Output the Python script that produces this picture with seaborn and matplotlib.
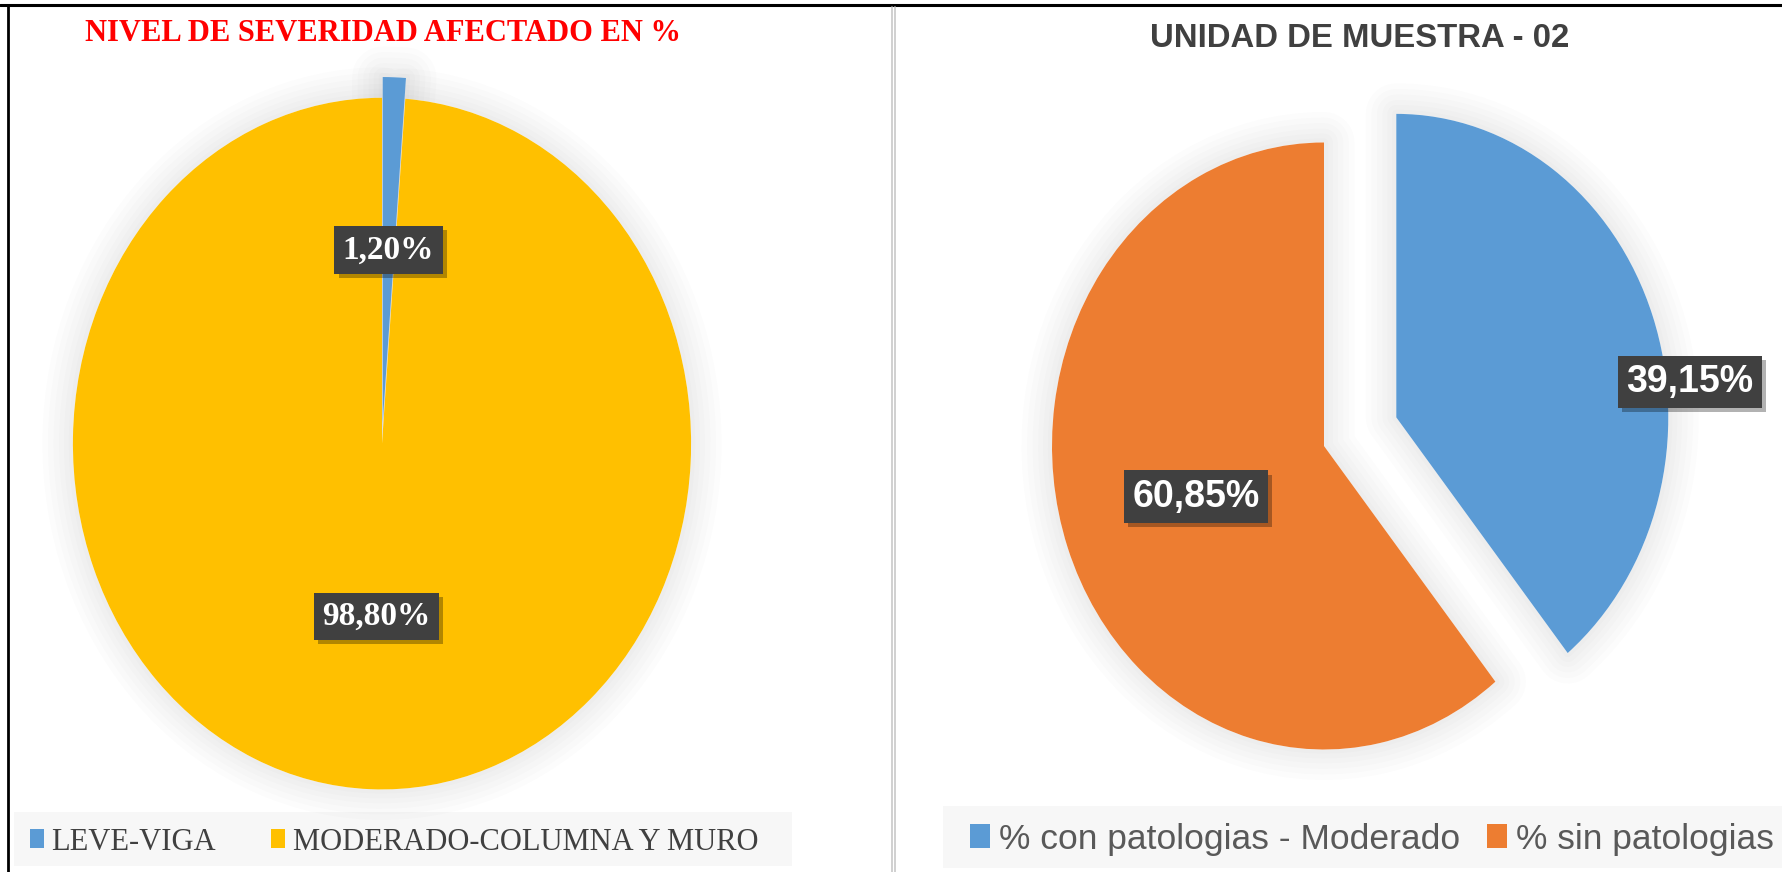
import numpy as np
import seaborn as sns
import matplotlib.pyplot as plt
import matplotlib.patheffects as pe
from matplotlib.patches import Wedge, Patch, Rectangle
from matplotlib.lines import Line2D

# left chart: severity level
sev_labels = ["LEVE-VIGA", "MODERADO-COLUMNA Y MURO"]
sev_values = [1.20, 98.80]
sev_colors = ["#5B9BD5", "#FFC000"]

# right chart: sample unit 02
unit_labels = ["% con patologias - Moderado", "% sin patologias"]
unit_values = [39.15, 60.85]
unit_colors = ["#5B9BD5", "#ED7D31"]

sns.set_theme(style="white")
plt.rcParams["font.family"] = ["Liberation Sans", "DejaVu Sans"]

W, H = 1782, 872
fig = plt.figure(figsize=(W / 100, H / 100), dpi=100)
fig.patch.set_facecolor("white")


def fmt_pct(p):
    return f"{p:.2f}%".replace(".", ",")


def add_halo(ax, wedges):
    # soft grey glow like the Excel shadow
    strokes = [pe.Stroke(linewidth=lw, foreground="black", alpha=0.012, joinstyle="round")
               for lw in (44, 36, 28, 20, 13, 6)]
    for w in wedges:
        s = Wedge(w.center, w.r, w.theta1, w.theta2, facecolor="white",
                  edgecolor="none", zorder=0, clip_on=False)
        s.set_path_effects(strokes + [pe.Normal()])
        ax.add_patch(s)


def box_label(t, size, family, pad):
    t.set_color("white")
    t.set_fontsize(size)
    t.set_fontweight("bold")
    t.set_family(family)
    t.set_bbox(dict(boxstyle=f"square,pad={pad}", facecolor="#404040", edgecolor="none"))
    t.get_bbox_patch().set_path_effects(
        [pe.SimplePatchShadow(offset=(3, -3), shadow_rgbFace="black", alpha=0.3), pe.Normal()])
    t.set_zorder(5)


# ---- left pie ----
ax1 = fig.add_axes([42 / W, 13.4 / H, 680 / W, 830 / H])
w1, _, at1 = ax1.pie(sev_values, colors=sev_colors, explode=[0.06, 0], startangle=90,
                     counterclock=False, autopct=fmt_pct, pctdistance=0.5,
                     wedgeprops=dict(linewidth=0))
ax1.set_aspect("auto")
ax1.set_xlim(-1.1, 1.1)
ax1.set_ylim(-1.2, 1.2)
ax1.axis("off")
add_halo(ax1, w1)
for t in at1:
    box_label(t, 24, ["Liberation Serif", "DejaVu Serif"], 0.25)

# ---- right pie ----
ax2 = fig.add_axes([1011.2 / W, 61.8 / H, 693.6 / W, 743.6 / H])
w2, _, at2 = ax2.pie(unit_values, colors=unit_colors, explode=[0.282, 0], startangle=90,
                     counterclock=False, autopct=fmt_pct, pctdistance=0.5,
                     wedgeprops=dict(linewidth=0))
ax2.set_aspect("auto")
ax2.set_xlim(-1.15, 1.4)
ax2.set_ylim(-1.2, 1.25)
ax2.axis("off")
add_halo(ax2, w2)
for t in at2:
    box_label(t, 27, ["Liberation Sans", "DejaVu Sans"], 0.22)
# Excel "best fit" puts the blue label on the rim
at2[0].set_position((1.346, 0.211))

# ---- titles ----
fig.text(383 / W, 1 - 41 / H, "NIVEL DE SEVERIDAD AFECTADO EN %", ha="center", va="baseline",
         color="#FF0000", fontsize=22, fontweight="bold",
         family=["Liberation Serif", "DejaVu Serif"])
fig.text(1360 / W, 1 - 47 / H, "UNIDAD DE MUESTRA - 02", ha="center", va="baseline",
         color="#404040", fontsize=23.7, fontweight="bold")

# ---- legends ----
fig.add_artist(Rectangle((14 / W, 1 - 866 / H), 778 / W, 54 / H, transform=fig.transFigure,
                         facecolor="#F7F7F7", edgecolor="none", zorder=0))
fig.add_artist(Rectangle((943 / W, 1 - 868 / H), 839 / W, 62 / H, transform=fig.transFigure,
                         facecolor="#F7F7F7", edgecolor="none", zorder=0))

h1 = [Patch(facecolor=c, edgecolor="none") for c in sev_colors]
fig.legend(h1, sev_labels, loc="center left", bbox_to_anchor=(2 / W, 1 - 842 / H), ncol=2,
           frameon=False, handlelength=0.47, handleheight=0.6,
           handletextpad=0.25, columnspacing=1.78, borderpad=0.4,
           labelcolor="#404040", prop=dict(family=["Liberation Serif", "DejaVu Serif"], size=22))

h2 = [Patch(facecolor=c, edgecolor="none") for c in unit_colors]
fig.legend(h2, unit_labels, loc="center left", bbox_to_anchor=(938 / W, 1 - 839 / H), ncol=2,
           frameon=False, handlelength=0.57, handleheight=0.69,
           handletextpad=0.26, columnspacing=0.75, borderpad=0.4,
           labelcolor="#595959", prop=dict(family=["Liberation Sans", "DejaVu Sans"], size=25.5))

# ---- table borders around the two charts ----
fig.add_artist(Line2D([0, 1], [1 - 5.5 / H] * 2, transform=fig.transFigure, color="black", lw=2.2))
fig.add_artist(Line2D([8 / W] * 2, [0, 1 - 5.5 / H], transform=fig.transFigure, color="black", lw=2.0))
for x in (892, 895):
    fig.add_artist(Line2D([x / W] * 2, [0, 1 - 7 / H], transform=fig.transFigure,
                          color="#C8C8C8", lw=1.2))

fig.savefig("out.png", dpi=100)
